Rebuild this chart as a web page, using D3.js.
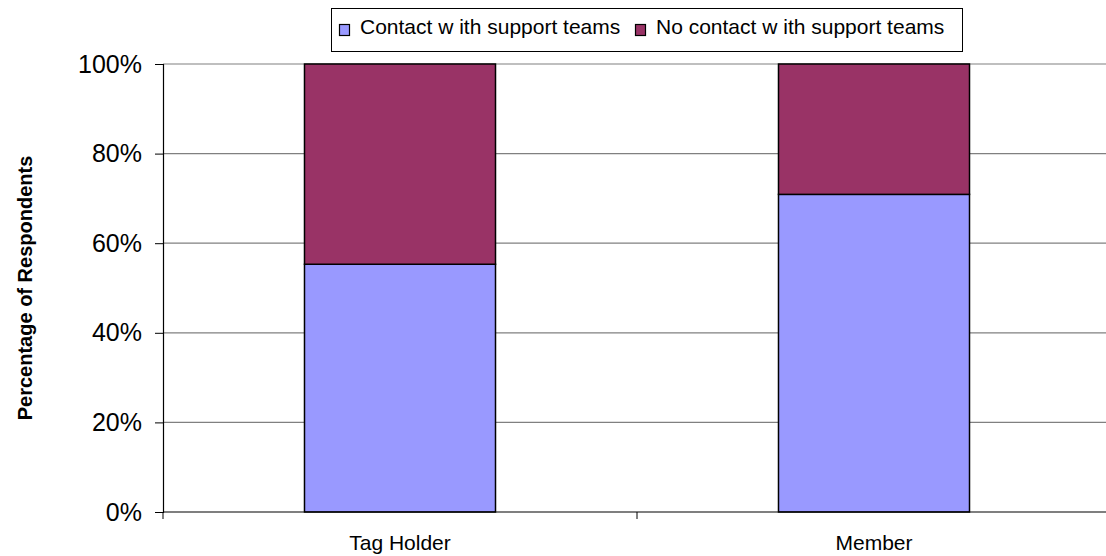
<!DOCTYPE html>
<html lang="en">
<head>
  <meta charset="utf-8">
  <title>support teams contact</title>
  <style>
    body { margin: 0; background: #fff; }
    svg { display: block; font-family: "Liberation Sans", Arial, sans-serif; }
  </style>
</head>
<body>
  <svg class="canvas" width="1106" height="556"></svg>

  <script src="https://cdn.jsdelivr.net/npm/d3@7"></script>
  <script>

// data
let categories = ["Tag Holder", "Member"]
let contact = [55.3, 70.9]
let noContact = [44.7, 29.1]
let seriesNames = ["Contact with support teams", "No contact with support teams"]
let seriesColors = ["#9999FF", "#993366"]
let yTicks = [0, 20, 40, 60, 80, 100]

let svg = d3.select(".canvas")

// plot box (note: "top" is taken by window.top)
let plotL = 163, plotR = 1111, plotT = 64, plotB = 512

let x = d3.scaleBand().domain(categories).range([plotL, plotR]).paddingInner(0).paddingOuter(0)
let y = d3.scaleLinear().domain([0, 100]).range([plotB, plotT])

// gridlines
svg.append("g")
  .selectAll("line").data(yTicks.filter(d => d > 0))
  .enter().append("line")
    .attr("x1", plotL).attr("x2", 1106)
    .attr("y1", d => y(d)).attr("y2", d => y(d))
    .attr("stroke", "#808080").attr("stroke-width", 1.2)

// stacked bars
let stacked = categories.map((c, i) => ({cat: c, vals: [contact[i], noContact[i]]}))
let bw = x.bandwidth() * 0.403

stacked.forEach(d => {
  let base = 0
  d.vals.forEach((v, j) => {
    svg.append("rect")
      .attr("x", x(d.cat) + x.bandwidth() / 2 - bw / 2)
      .attr("width", bw)
      .attr("y", y(base + v))
      .attr("height", y(base) - y(base + v))
      .attr("fill", seriesColors[j])
      .attr("stroke", "#000").attr("stroke-width", 1.5)
    base += v
  })
})

// y axis
let yAxis = svg.append("g")
  .attr("transform", "translate(" + plotL + ",0)")
  .call(d3.axisLeft(y).tickValues(yTicks).tickFormat(d => d + "%").tickSize(8).tickPadding(13))
yAxis.select(".domain").attr("stroke", "#000").attr("stroke-width", 1.2)
yAxis.selectAll(".tick line").attr("stroke", "#000")
yAxis.selectAll("text").attr("font-size", 25).attr("fill", "#000")
  .attr("font-family", "Liberation Sans, Arial, sans-serif")

// x axis
let xAxis = svg.append("g")
  .attr("transform", "translate(0," + plotB + ")")
  .call(d3.axisBottom(x).tickSize(0).tickPadding(0))
xAxis.select(".domain").attr("stroke", "#000").attr("stroke-width", 1.2).attr("d", "M" + plotL + ",0H1106")
xAxis.selectAll("text").attr("font-size", 21).attr("fill", "#000")
  .attr("font-family", "Liberation Sans, Arial, sans-serif")
  .attr("dy", null).attr("y", 38)

// category separators
svg.append("g")
  .selectAll("line").data([plotL, x(categories[1]), plotR])
  .enter().append("line")
    .attr("x1", d => d).attr("x2", d => d)
    .attr("y1", plotB).attr("y2", plotB + 7)
    .attr("stroke", "#000")

// y title
svg.append("text")
  .attr("transform", "translate(32," + ((plotT + plotB) / 2) + ") rotate(-90)")
  .attr("text-anchor", "middle")
  .attr("font-size", 20).attr("font-weight", "bold")
  .text("Percentage of Respondents")

// legend
let lg = svg.append("g")
lg.append("rect")
  .attr("x", 331.5).attr("y", 8.5).attr("width", 631).attr("height", 43)
  .attr("fill", "#fff").attr("stroke", "#000")

let legendX = [339, 635]
seriesNames.forEach((n, i) => {
  lg.append("rect")
    .attr("x", legendX[i] + 0.5).attr("y", 24.5).attr("width", 10).attr("height", 11)
    .attr("fill", seriesColors[i]).attr("stroke", "#000").attr("stroke-width", 1.2)
  lg.append("text")
    .attr("x", legendX[i] + 21).attr("y", 34)
    .attr("font-size", 21)
    .text(n.replace("with", "w ith"))
})

  </script>
</body>
</html>
